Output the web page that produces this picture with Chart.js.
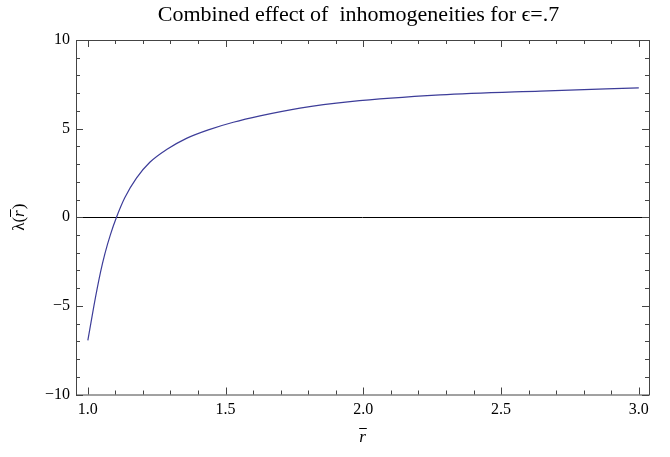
<!DOCTYPE html>
<html>
<head>
<meta charset="utf-8">
<script src="https://cdn.jsdelivr.net/npm/chart.js@4.4.0/dist/chart.umd.min.js"></script>
<style>
  html, body { margin: 0; padding: 0; background: #fff; }
  #wrap { width: 670px; height: 457px; }
</style>
</head>
<body>
<div id="wrap"><canvas id="grafico"></canvas></div>
<script>
// valores
const rValores = [1.00, 1.022, 1.046, 1.062, 1.082, 1.104, 1.134, 1.177, 1.225, 1.286, 1.358, 1.443,
                  1.528, 1.625, 1.77, 1.952, 2.279, 2.642, 3.00];
const lambdaValores = [-6.95, -5.0, -3.1, -2.05, -0.98, 0, 1.10, 2.22, 3.10, 3.82, 4.45, 4.96,
                       5.36, 5.72, 6.16, 6.52, 6.90, 7.12, 7.30];
const xTicks = [1.0, 1.5, 2.0, 2.5, 3.0];
const yTicks = [-10, -5, 0, 5, 10];
const xMenores = [1.1, 1.2, 1.3, 1.4, 1.6, 1.7, 1.8, 1.9, 2.1, 2.2, 2.3, 2.4, 2.6, 2.7, 2.8, 2.9];
const yMenores = [-9, -8, -7, -6, -4, -3, -2, -1, 1, 2, 3, 4, 6, 7, 8, 9];
const titulo = "Combined effect of  inhomogeneities for \u03F5=.7";

const fuente = "'Liberation Serif', 'Times New Roman', serif";

// marco, marcas hacia adentro y textos, estilo Mathematica
const marco = {
  id: "marco",
  afterDraw(chart) {
    const { ctx, chartArea: a, scales } = chart;
    const sx = scales.x, sy = scales.y;
    ctx.save();
    ctx.strokeStyle = "#444";
    ctx.lineWidth = 1;
    ctx.strokeRect(a.left + 0.5, a.top + 0.5, a.right - a.left, a.bottom - a.top);
    const marca = (lista, largo) => {
      lista.forEach(v => {
        const px = Math.round(sx.getPixelForValue(v)) + 0.5;
        ctx.beginPath();
        ctx.moveTo(px, a.bottom); ctx.lineTo(px, a.bottom - largo);
        ctx.moveTo(px, a.top); ctx.lineTo(px, a.top + largo);
        ctx.stroke();
      });
    };
    const marcaY = (lista, largo) => {
      lista.forEach(v => {
        const py = Math.round(sy.getPixelForValue(v)) + 0.5;
        ctx.beginPath();
        ctx.moveTo(a.left, py); ctx.lineTo(a.left + largo, py);
        ctx.moveTo(a.right, py); ctx.lineTo(a.right - largo, py);
        ctx.stroke();
      });
    };
    marca(xTicks, 7);
    marca(xMenores, 4);
    marcaY(yTicks, 7);
    marcaY(yMenores, 4);

    // titulo
    const cx = (a.left + a.right) / 2;
    ctx.fillStyle = "#000";
    ctx.strokeStyle = "#000";
    ctx.textAlign = "center";
    ctx.textBaseline = "alphabetic";
    ctx.font = "22px " + fuente;
    ctx.fillText(titulo, cx - 4, 21);

    // etiqueta eje x: r con barra
    ctx.font = "italic 17px " + fuente;
    const by = 442;
    ctx.fillText("r", cx, by);
    const wr = ctx.measureText("r").width;
    ctx.lineWidth = 1;
    ctx.beginPath();
    ctx.moveTo(cx - wr / 2, by - 13.5); ctx.lineTo(cx + wr / 2 + 1, by - 13.5);
    ctx.stroke();

    // etiqueta eje y: lambda(r con barra), girada
    ctx.save();
    ctx.translate(24, (a.top + a.bottom) / 2);
    ctx.rotate(-Math.PI / 2);
    ctx.textAlign = "left";
    ctx.font = "17px " + fuente;
    const w1 = ctx.measureText("\u03BB(").width;
    const w3 = ctx.measureText(")").width;
    ctx.font = "italic 17px " + fuente;
    const w2 = ctx.measureText("r").width + 1;
    const x0 = -(w1 + w2 + w3) / 2;
    ctx.font = "17px " + fuente;
    ctx.fillText("\u03BB(", x0, 0);
    ctx.font = "italic 17px " + fuente;
    ctx.fillText("r", x0 + w1, 0);
    ctx.beginPath();
    ctx.moveTo(x0 + w1, -13.5); ctx.lineTo(x0 + w1 + w2, -13.5);
    ctx.stroke();
    ctx.font = "17px " + fuente;
    ctx.fillText(")", x0 + w1 + w2, 0);
    ctx.restore();

    ctx.restore();
  }
};

const ctx = document.getElementById("grafico").getContext("2d");
new Chart(ctx, {
  type: "line",
  data: {
    datasets: [{
      data: rValores.map((r, i) => ({ x: r, y: lambdaValores[i] })),
      borderColor: "#3d3d99",
      borderWidth: 1.2,
      pointRadius: 0,
      cubicInterpolationMode: "monotone",
      fill: false
    }]
  },
  options: {
    responsive: true,
    maintainAspectRatio: false,
    animation: false,
    layout: { padding: { left: 0, right: 21, top: 40, bottom: 0 } },
    plugins: {
      legend: { display: false },
      tooltip: { enabled: false },
      title: { display: false }
    },
    scales: {
      x: {
        type: "linear",
        min: 0.957,
        max: 3.037,
        afterBuildTicks: s => { s.ticks = xTicks.map(v => ({ value: v })); },
        afterFit: s => { s.height = 62.5; },
        grid: { display: false, drawTicks: false },
        border: { display: false },
        ticks: {
          color: "#000",
          font: { family: fuente, size: 16 },
          padding: 6,
          maxRotation: 0,
          callback: v => v.toFixed(1)
        }
      },
      y: {
        min: -10,
        max: 10,
        afterBuildTicks: s => { s.ticks = yTicks.map(v => ({ value: v })); },
        afterFit: s => { s.width = 76; },
        grid: {
          drawTicks: false,
          color: c => (c.tick && c.tick.value === 0 ? "#000" : "rgba(0,0,0,0)"),
          lineWidth: 1
        },
        border: { display: false },
        ticks: {
          color: "#000",
          font: { family: fuente, size: 16 },
          padding: 6,
          callback: v => (v < 0 ? "\u2212" + Math.abs(v) : String(v))
        }
      }
    }
  },
  plugins: [marco]
});
</script>
</body>
</html>
